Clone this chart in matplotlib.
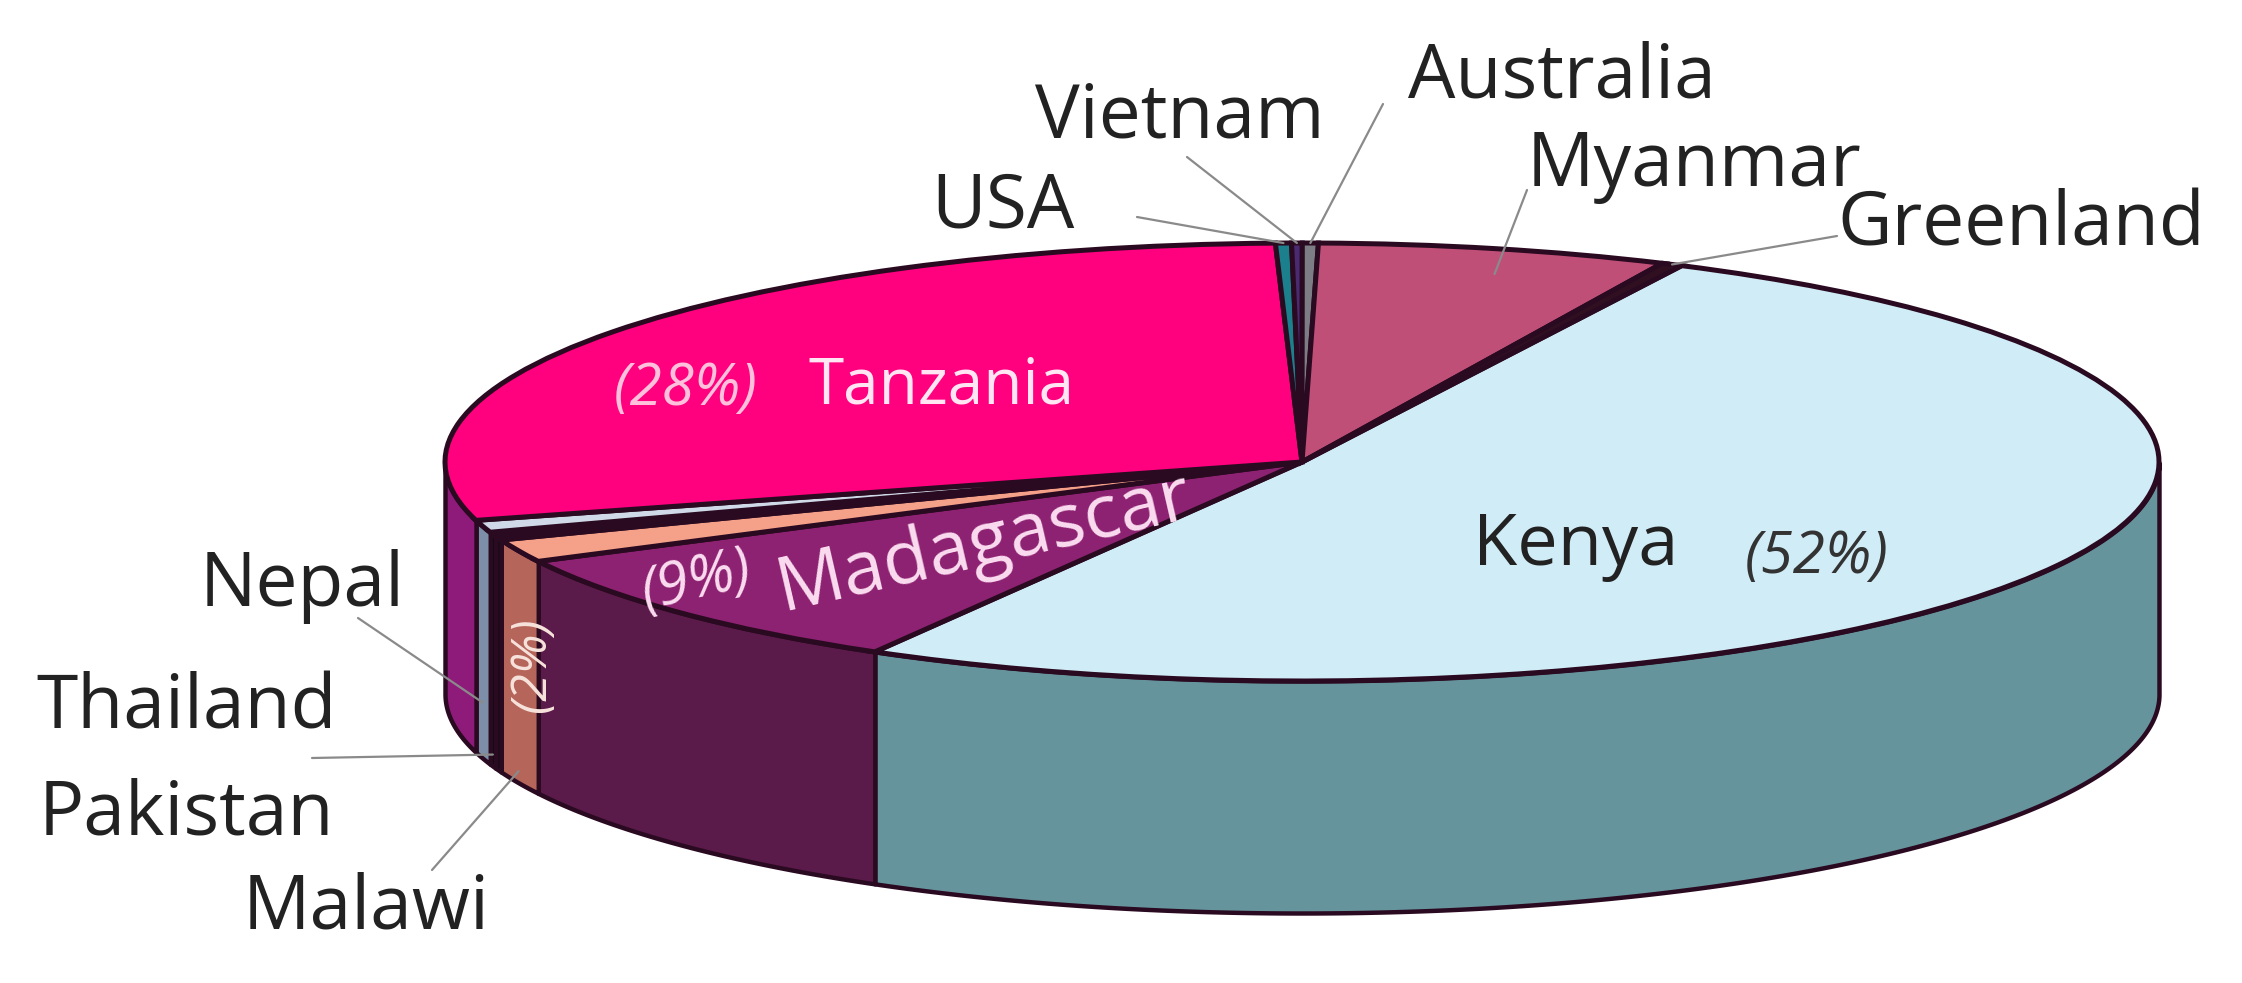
import numpy as np
import matplotlib
matplotlib.use('Agg')
import matplotlib.pyplot as plt

plt.rcParams['font.family'] = ['Open Sans', 'DejaVu Sans']

countries = ['Kenya', 'Madagascar', 'Malawi', 'Pakistan', 'Thailand', 'Nepal',
             'Tanzania', 'USA', 'Vietnam', 'Australia', 'Myanmar', 'Greenland']
shares = [51.0, 9.2, 1.7, 0.3, 0.3, 0.9, 28.8, 0.3, 0.2, 0.3, 6.6, 0.4]
top_colors = ['#d0ecf7', '#8e2272', '#f5a088', '#120a12', '#120a12', '#cfd9e8',
              '#ff007f', '#1c7f8c', '#4a2a70', '#7d7d85', '#c04f78', '#301020']
wall_colors = ['#66949d', '#5a1a4a', '#b5655a', '#120a12', '#120a12', '#7d8fa8',
               '#8e1a7a', '#1c7f8c', '#4a2a70', '#7d7d85', '#8a3050', '#301020']

# pixel geometry of the squashed disc
CX, CY, RX, RY, DEPTH = 1302, 462, 857, 219, 232
EDGE = '#2a0a20'
W, H = 2242, 983


def to_pie(x, y):
    return (x - CX) / RX, (CY - y) / RY


fig = plt.figure(figsize=(W / 100, H / 100), dpi=100)
ax = fig.add_axes([0, 0, 1, 1])
wedges, _ = ax.pie(shares, colors=top_colors, startangle=63.7, counterclock=False,
                   wedgeprops=dict(edgecolor=EDGE, linewidth=3.6), normalize=True)
ax.set_aspect('auto')
ax.set_xlim(*[to_pie(v, 0)[0] for v in (0, W)])
ax.set_ylim(*[to_pie(0, v)[1] for v in (H, 0)])
ax.axis('off')

depth = DEPTH / RY
mid_angle = {}
for w, name, c in zip(wedges, countries, wall_colors):
    w.set_zorder(3)
    mid_angle[name] = np.radians((w.theta1 + w.theta2) / 2)
    t = np.radians(np.linspace(w.theta1, w.theta2, 300))
    t = t[np.sin(t) <= 0]
    if len(t) > 1:
        # walls only show on the front half
        ax.fill_between(np.cos(t), np.sin(t), np.sin(t) - depth, facecolor=c,
                        edgecolor=EDGE, linewidth=3.2, zorder=2)

# name, x, y
labels = [
    ('Australia', 1408, 78), ('Vietnam', 1035, 118),
    ('Myanmar', 1527, 166), ('USA', 931, 208),
    ('Greenland', 1837, 226), ('Nepal', 200, 587),
    ('Thailand', 36, 709), ('Pakistan', 39, 815),
    ('Malawi', 243, 909),
]
for name, x, y in labels:
    ax.text(*to_pie(x, y), name, fontsize=54, color='#222222', ha='left', va='center', zorder=6)

# inside labels
ax.text(*to_pie(942, 386), 'Tanzania', fontsize=46, color='#ffe6f2', ha='center', va='center', zorder=6)
ax.text(*to_pie(686, 390), '(28%)', fontsize=42, style='italic', color='#ffc0dc', ha='center', va='center', zorder=6)
ax.text(*to_pie(984, 544), 'Madagascar', fontsize=54, color='#fbdcf0', ha='center', va='center', rotation=13, zorder=6)
ax.text(*to_pie(697, 582), '(9%)', fontsize=42, style='italic', color='#fbdcf0', ha='center', va='center', rotation=13, zorder=6)
ax.text(*to_pie(1576, 546), 'Kenya', fontsize=52, color='#222222', ha='center', va='center', zorder=6)
ax.text(*to_pie(1817, 558), '(52%)', fontsize=42, style='italic', color='#333333', ha='center', va='center', zorder=6)
ax.text(*to_pie(532, 665), '(2%)', fontsize=36, style='italic', color='#f7e3dc', ha='center', va='center', rotation=90, zorder=6)

# leader lines: outer end in pixels, inner end on the slice
leaders = [
    ('Australia', 1383, 104, 0.0), ('Vietnam', 1187, 157, 0.0), ('USA', 1137, 217, 0.0),
    ('Myanmar', 1527, 190, 0.11), ('Greenland', 1837, 236, 0.0), ('Nepal', 358, 618, 0.76),
    ('Thailand', 312, 758, 0.95), ('Malawi', 432, 870, 0.95),
]
for name, x, y, drop in leaders:
    a = mid_angle[name]
    end = (np.cos(a), np.sin(a) - drop * depth)
    ax.annotate('', xy=end, xytext=to_pie(x, y), zorder=5,
                arrowprops=dict(arrowstyle='-', color='#8a8a8a', lw=1.6, shrinkA=0, shrinkB=0))

fig.savefig('out.png', dpi=100, facecolor='white')
